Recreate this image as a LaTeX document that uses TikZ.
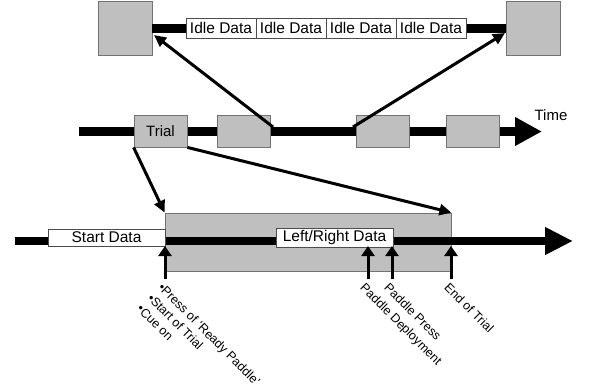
\documentclass[tikz,border=0pt]{standalone}
\usepackage{fontspec}
\setmainfont{Liberation Sans}
\usetikzlibrary{arrows.meta}
\begin{document}
\begin{tikzpicture}[x=1pt,y=-1pt,
  gbox/.style={draw=black!55, fill=black!25, line width=0.8pt, minimum width=53pt, minimum height=32pt, inner sep=0pt, font=\fontsize{15}{18}\selectfont},
  bigbox/.style={gbox, minimum width=54pt, minimum height=54pt},
  wbox/.style={draw=black!70, fill=white, line width=0.8pt, inner sep=0pt, font=\fontsize{15.5}{18}\selectfont},
  bar/.style={line width=9pt},
  conn/.style={line width=3pt, -{Triangle[length=12pt,width=11pt]}},
  vconn/.style={line width=3pt, -{Triangle[length=10pt,width=13pt]}},
  lbl/.style={rotate=-45, anchor=north west, inner sep=0pt, align=left, font=\fontsize{12.5}{15}\selectfont}
]
\useasboundingbox (0,0) rectangle (593,391);
% ---------- top row ----------
\node[bigbox] (tl) at (125,28) {};
\node[bigbox] (tr) at (533,28) {};
\draw[bar] (tl.east) -- (tr.west);
\node[wbox, minimum width=70pt, minimum height=20pt] (i1) at (221,28) {Idle Data};
\node[wbox, minimum width=70pt, minimum height=20pt] (i2) at (291,28) {Idle Data};
\node[wbox, minimum width=70pt, minimum height=20pt] (i3) at (361,28) {Idle Data};
\node[wbox, minimum width=70pt, minimum height=20pt] (i4) at (431,28) {Idle Data};
% ---------- middle timeline ----------
\coordinate (ms) at (79,131.5);
\coordinate (me) at (542,131.5);
\draw[bar, -{Triangle[length=27pt,width=27pt]}] (ms) -- (me);
\node[gbox] (trial) at (160.5,131) {Trial};
\node[gbox] (b2) at (243.5,131) {};
\node[gbox] (b3) at (382.5,131) {};
\node[gbox] (b4) at (473,131) {};
\node[font=\fontsize{15}{18}\selectfont, inner sep=0pt] (time) at (551,115) {Time};
\coordinate (s1) at (273,127);
\coordinate (s2) at (353,127);
\coordinate (t1) at (154,35);
\coordinate (t2) at (505,33);
\draw[conn] (s1) -- (t1);
\draw[conn] (s2) -- (t2);
% ---------- bottom ----------
\node[draw=black!55, fill=black!25, line width=0.8pt, minimum width=286pt, minimum height=58pt, inner sep=0pt] (lr) at (308,242) {};
\coordinate (bs) at (15,241);
\coordinate (be) at (573,241);
\draw[line width=8pt, -{Triangle[length=28pt,width=26pt]}] (bs) -- (be);
\node[wbox, minimum width=117pt, minimum height=17pt] (sd) at (106.5,237.5) {Start Data};
\node[wbox, minimum width=117pt, minimum height=19pt] (lrd) at (334.5,237.5) {Left/Right Data};
\draw[conn] (trial.south west) -- (lr.north west);
\draw[conn] (trial.south east) -- (lr.north east);
\coordinate (v1b) at (165,279); \coordinate (v1t) at (165,246);
\coordinate (v2b) at (368,279); \coordinate (v2t) at (368,246);
\coordinate (v3b) at (392,279); \coordinate (v3t) at (392,246);
\coordinate (v4b) at (451,279); \coordinate (v4t) at (451,246);
\draw[vconn] (v1b) -- (v1t);
\draw[vconn] (v2b) -- (v2t);
\draw[vconn] (v3b) -- (v3t);
\draw[vconn] (v4b) -- (v4t);
\node[lbl] (l1) at (164,282) {•Press of ‘Ready Paddle’\\•Start of Trial\\•Cue on};
\node[lbl] (l2) at (366,282) {Paddle Deployment};
\node[lbl] (l3) at (390,282) {Paddle Press};
\node[lbl] (l4) at (450,282) {End of Trial};
\end{tikzpicture}
\end{document}
